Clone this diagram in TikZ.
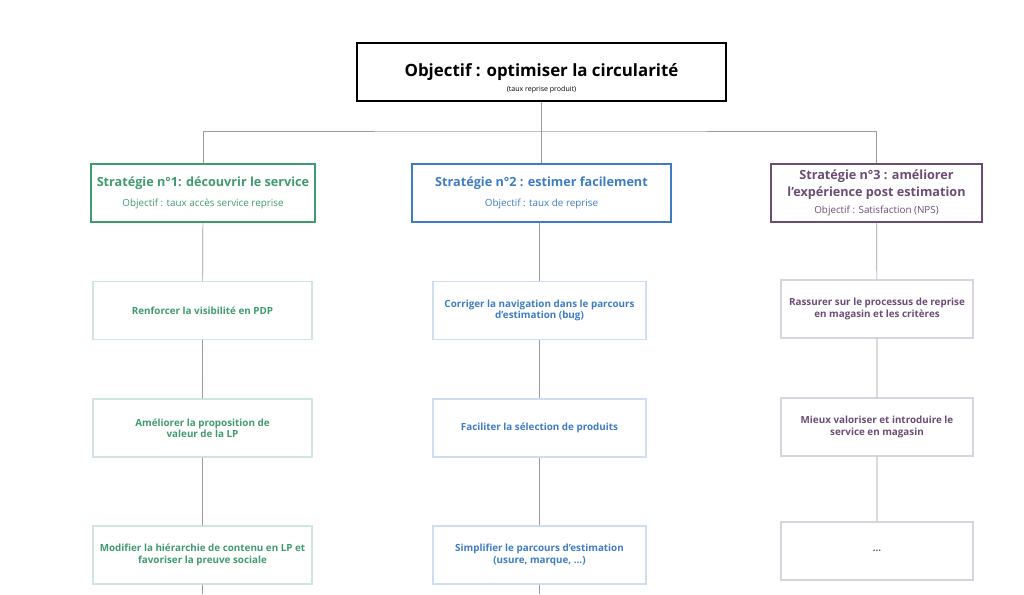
\documentclass[tikz,border=0pt]{standalone}
\usepackage{fontspec}
\setmainfont{Open Sans}
\definecolor{vert}{HTML}{3F9A6E}
\definecolor{bleu}{HTML}{3D7CC2}
\definecolor{violet}{HTML}{6B4C75}
\definecolor{trait}{HTML}{9A9A9A}
\begin{document}
\begin{tikzpicture}[x=0.025cm, y=-0.025cm,
  strat/.style={draw=#1, line width=1.2pt, minimum height=58*0.025cm, align=center, text=#1, inner sep=2pt},
  etape/.style={draw=#1!25, line width=0.8pt, minimum height=58*0.025cm, align=center, text=#1, font=\scriptsize\bfseries, inner sep=2pt},
  lien/.style={draw=trait, line width=0.5pt}]
  \useasboundingbox (0,0) rectangle (1024,594);

  % Objectif
  \node[draw, line width=1.2pt, minimum width=369*0.025cm, minimum height=58*0.025cm] (obj) at (541.5,72) {};
  \node[font=\large\bfseries] at (541.5,72) {Objectif : optimiser la circularité};
  \node[font=\tiny] at (541.5,90) {(taux reprise produit)};

  % Stratégies
  \node[strat=vert, minimum width=224*0.025cm] (s1) at (203,193)
    {\small\bfseries Stratégie n°1: découvrir le service\\[2pt] \scriptsize Objectif : taux accès service reprise};
  \node[strat=bleu, minimum width=259*0.025cm] (s2) at (541.5,193)
    {\small\bfseries Stratégie n°2 : estimer facilement\\[2pt] \scriptsize Objectif : taux de reprise};
  \node[strat=violet, minimum width=211*0.025cm] (s3) at (876.5,193)
    {\small\bfseries Stratégie n°3 : améliorer\\ \small\bfseries l'expérience post estimation\\ \scriptsize Objectif : Satisfaction (NPS)};

  \coordinate (h) at (541.5,131);
  \draw[lien] (obj.south) -- (h);
  \draw[lien] (s1.north) |- (h) -| (s3.north);
  \draw[lien] (h) -- (s2.north);

  % Étapes
  \node[etape=vert, minimum width=219*0.025cm] (a1) at (202.5,310.5) {Renforcer la visibilité en PDP};
  \node[etape=vert, minimum width=219*0.025cm] (a2) at (202.5,428) {Améliorer la proposition de\\valeur de la LP};
  \node[etape=vert, minimum width=219*0.025cm] (a3) at (202.5,555) {Modifier la hiérarchie de contenu en LP et\\favoriser la preuve sociale};
  \node[etape=bleu, minimum width=213*0.025cm] (b1) at (539.5,310.5) {Corriger la navigation dans le parcours\\d'estimation (bug)};
  \node[etape=bleu, minimum width=213*0.025cm] (b2) at (539.5,428) {Faciliter la sélection de produits};
  \node[etape=bleu, minimum width=213*0.025cm] (b3) at (539.5,555) {Simplifier le parcours d'estimation\\(usure, marque, ...)};
  \node[etape=violet, minimum width=192*0.025cm] (c1) at (877,309) {Rassurer sur le processus de reprise\\en magasin et les critères};
  \node[etape=violet, minimum width=192*0.025cm] (c2) at (877,427) {Mieux valoriser et introduire le\\service en magasin};
  \node[etape=violet, minimum width=192*0.025cm] (c3) at (877,551) {...};

  \coordinate (fa) at (202.5,594);
  \coordinate (fb) at (539.5,594);
  \draw[lien] (s1) -- (a1) -- (a2) -- (a3) -- (fa);
  \draw[lien] (s2.south -| b1) -- (b1) -- (b2) -- (b3) -- (fb);
  \draw[lien] (s3) -- (c1) -- (c2) -- (c3);
\end{tikzpicture}
\end{document}
